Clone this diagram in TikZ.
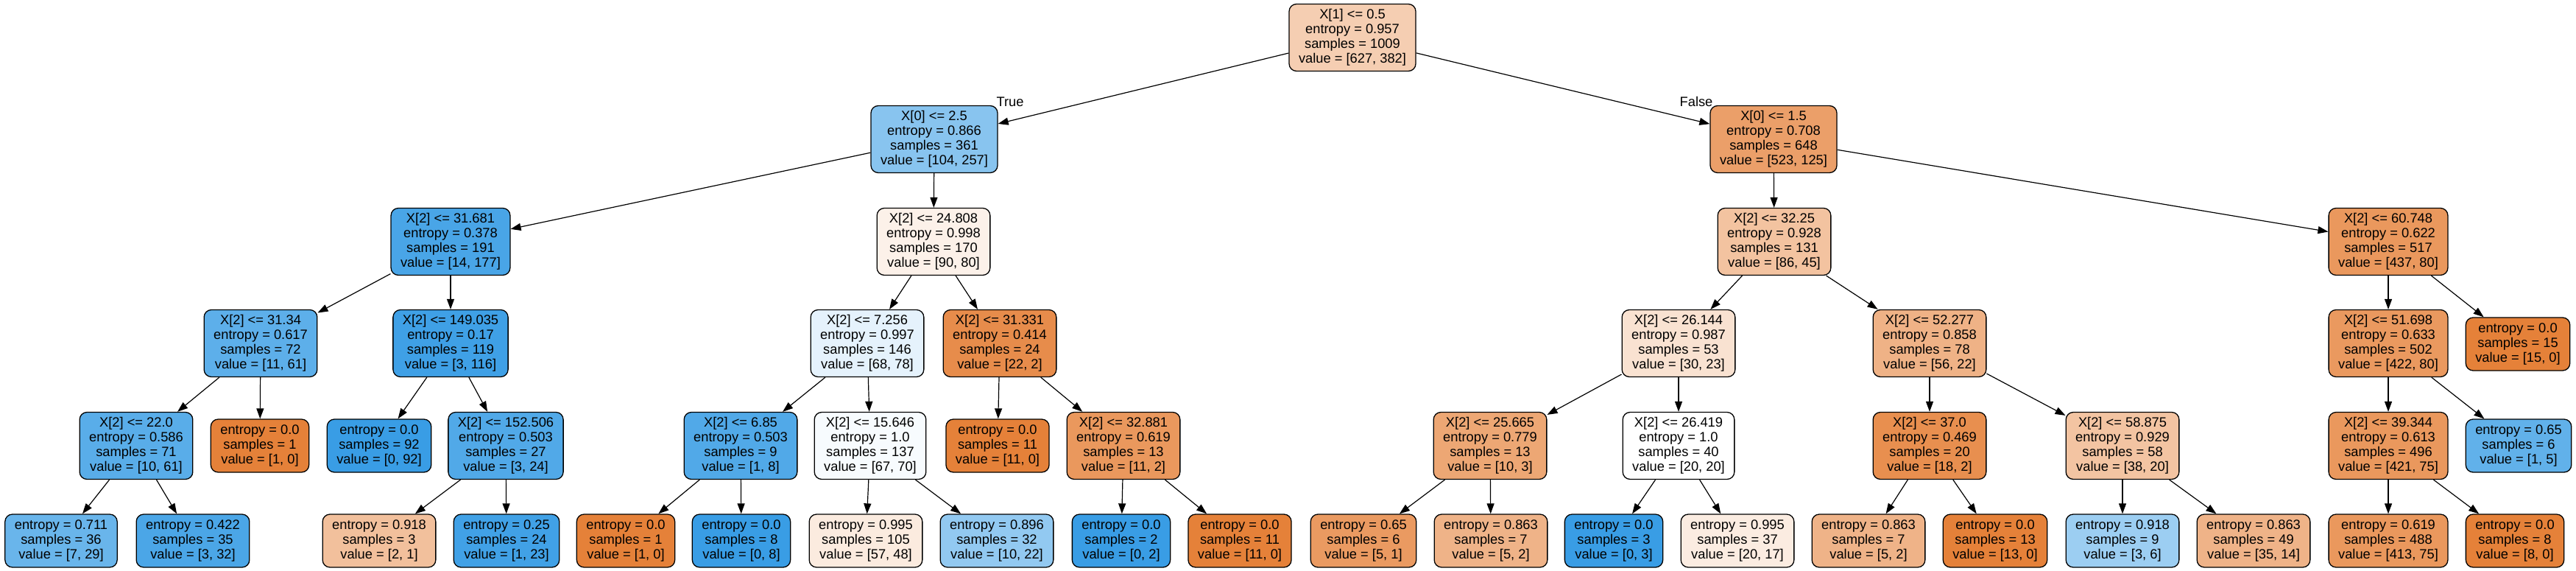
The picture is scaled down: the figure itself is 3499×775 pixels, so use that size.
\documentclass[tikz,border=0pt]{standalone}
\usepackage{fontspec}
\setmainfont{Liberation Sans}
\usetikzlibrary{arrows.meta}
\definecolor{clsA}{HTML}{E58139}
\definecolor{clsB}{HTML}{399DE5}
\begin{document}
\begin{tikzpicture}
      [
      x=1pt, y=-1pt,
      font=\fontsize{18.3}{20}\selectfont,
      box/.style={rectangle,draw,line width=1.3pt,rounded corners=10pt,align=center,inner xsep=13pt,inner ysep=2pt},
      split/.style={box,minimum height=91pt},
      leaf/.style={box,minimum height=72pt},
      edge/.style={line width=1.2pt,-{Triangle[length=14pt,width=10pt]}}
      ]
      \useasboundingbox (0,0) rectangle (3499,775);
      % depth 0 and 1
      \node (n) at (1837,51) [split, fill=clsA!39!white] {X[1] <= 0.5\\entropy = 0.957\\samples = 1009\\value = [627, 382]};
      \node (nl) at (1269,189) [split, fill=clsB!60!white] {X[0] <= 2.5\\entropy = 0.866\\samples = 361\\value = [104, 257]};
      \node (nr) at (2409,189) [split, fill=clsA!76!white] {X[0] <= 1.5\\entropy = 0.708\\samples = 648\\value = [523, 125]};
      \node (lblT) at (1372,138) {True};
      \node (lblF) at (2304,138) {False};
      % depth 2
      \node (nll) at (612,328) [split, fill=clsB!92!white] {X[2] <= 31.681\\entropy = 0.378\\samples = 191\\value = [14, 177]};
      \node (nlr) at (1268,328) [split, fill=clsA!11!white] {X[2] <= 24.808\\entropy = 0.998\\samples = 170\\value = [90, 80]};
      \node (nrl) at (2410,328) [split, fill=clsA!48!white] {X[2] <= 32.25\\entropy = 0.928\\samples = 131\\value = [86, 45]};
      \node (nrr) at (3244,328) [split, fill=clsA!82!white] {X[2] <= 60.748\\entropy = 0.622\\samples = 517\\value = [437, 80]};
      % depth 3
      \node (nlll) at (354,466) [split, fill=clsB!82!white] {X[2] <= 31.34\\entropy = 0.617\\samples = 72\\value = [11, 61]};
      \node (nllr) at (612,466) [split, fill=clsB!97!white] {X[2] <= 149.035\\entropy = 0.17\\samples = 119\\value = [3, 116]};
      \node (nlrl) at (1178,466) [split, fill=clsB!13!white] {X[2] <= 7.256\\entropy = 0.997\\samples = 146\\value = [68, 78]};
      \node (nlrr) at (1358,466) [split, fill=clsA!91!white] {X[2] <= 31.331\\entropy = 0.414\\samples = 24\\value = [22, 2]};
      \node (nrll) at (2280,466) [split, fill=clsA!23!white] {X[2] <= 26.144\\entropy = 0.987\\samples = 53\\value = [30, 23]};
      \node (nrlr) at (2621,466) [split, fill=clsA!61!white] {X[2] <= 52.277\\entropy = 0.858\\samples = 78\\value = [56, 22]};
      \node (nrrl) at (3244,466) [split, fill=clsA!81!white] {X[2] <= 51.698\\entropy = 0.633\\samples = 502\\value = [422, 80]};
      \node (nrrr) at (3420,467) [leaf, fill=clsA] {entropy = 0.0\\samples = 15\\value = [15, 0]};
      % depth 4
      \node (nllll) at (185,605) [split, fill=clsB!84!white] {X[2] <= 22.0\\entropy = 0.586\\samples = 71\\value = [10, 61]};
      \node (nlllr) at (353,605) [leaf, fill=clsA] {entropy = 0.0\\samples = 1\\value = [1, 0]};
      \node (nllrl) at (515,605) [leaf, fill=clsB] {entropy = 0.0\\samples = 92\\value = [0, 92]};
      \node (nllrr) at (687,605) [split, fill=clsB!88!white] {X[2] <= 152.506\\entropy = 0.503\\samples = 27\\value = [3, 24]};
      \node (nlrll) at (1006,605) [split, fill=clsB!88!white] {X[2] <= 6.85\\entropy = 0.503\\samples = 9\\value = [1, 8]};
      \node (nlrlr) at (1182,605) [split, fill=clsB!4!white] {X[2] <= 15.646\\entropy = 1.0\\samples = 137\\value = [67, 70]};
      \node (nlrrl) at (1355,605) [leaf, fill=clsA] {entropy = 0.0\\samples = 11\\value = [11, 0]};
      \node (nlrrr) at (1526,605) [split, fill=clsA!82!white] {X[2] <= 32.881\\entropy = 0.619\\samples = 13\\value = [11, 2]};
      \node (nrlll) at (2024,605) [split, fill=clsA!70!white] {X[2] <= 25.665\\entropy = 0.779\\samples = 13\\value = [10, 3]};
      \node (nrllr) at (2280,605) [split, fill=white] {X[2] <= 26.419\\entropy = 1.0\\samples = 40\\value = [20, 20]};
      \node (nrlrl) at (2621,605) [split, fill=clsA!89!white] {X[2] <= 37.0\\entropy = 0.469\\samples = 20\\value = [18, 2]};
      \node (nrlrr) at (2883,605) [split, fill=clsA!47!white] {X[2] <= 58.875\\entropy = 0.929\\samples = 58\\value = [38, 20]};
      \node (nrrll) at (3244,605) [split, fill=clsA!82!white] {X[2] <= 39.344\\entropy = 0.613\\samples = 496\\value = [421, 75]};
      \node (nrrlr) at (3421,605) [leaf, fill=clsB!80!white] {entropy = 0.65\\samples = 6\\value = [1, 5]};
      % depth 5
      \node (nlllll) at (83,734) [leaf, fill=clsB!76!white] {entropy = 0.711\\samples = 36\\value = [7, 29]};
      \node (nllllr) at (262,734) [leaf, fill=clsB!91!white] {entropy = 0.422\\samples = 35\\value = [3, 32]};
      \node (nllrrl) at (515,734) [leaf, fill=clsA!50!white] {entropy = 0.918\\samples = 3\\value = [2, 1]};
      \node (nllrrr) at (688,734) [leaf, fill=clsB!96!white] {entropy = 0.25\\samples = 24\\value = [1, 23]};
      \node (nlrlll) at (850,734) [leaf, fill=clsA] {entropy = 0.0\\samples = 1\\value = [1, 0]};
      \node (nlrllr) at (1007,734) [leaf, fill=clsB] {entropy = 0.0\\samples = 8\\value = [0, 8]};
      \node (nlrlrl) at (1176,734) [leaf, fill=clsA!16!white] {entropy = 0.995\\samples = 105\\value = [57, 48]};
      \node (nlrlrr) at (1354,734) [leaf, fill=clsB!55!white] {entropy = 0.896\\samples = 32\\value = [10, 22]};
      \node (nlrrrl) at (1523,734) [leaf, fill=clsB] {entropy = 0.0\\samples = 2\\value = [0, 2]};
      \node (nlrrrr) at (1684,734) [leaf, fill=clsA] {entropy = 0.0\\samples = 11\\value = [11, 0]};
      \node (nrllll) at (1852,734) [leaf, fill=clsA!80!white] {entropy = 0.65\\samples = 6\\value = [5, 1]};
      \node (nrlllr) at (2025,734) [leaf, fill=clsA!60!white] {entropy = 0.863\\samples = 7\\value = [5, 2]};
      \node (nrllrl) at (2192,734) [leaf, fill=clsB] {entropy = 0.0\\samples = 3\\value = [0, 3]};
      \node (nrllrr) at (2360,734) [leaf, fill=clsA!15!white] {entropy = 0.995\\samples = 37\\value = [20, 17]};
      \node (nrlrll) at (2538,734) [leaf, fill=clsA!60!white] {entropy = 0.863\\samples = 7\\value = [5, 2]};
      \node (nrlrlr) at (2710,734) [leaf, fill=clsA] {entropy = 0.0\\samples = 13\\value = [13, 0]};
      \node (nrlrrl) at (2883,734) [leaf, fill=clsB!50!white] {entropy = 0.918\\samples = 9\\value = [3, 6]};
      \node (nrlrrr) at (3061,734) [leaf, fill=clsA!60!white] {entropy = 0.863\\samples = 49\\value = [35, 14]};
      \node (nrrlll) at (3244,734) [leaf, fill=clsA!82!white] {entropy = 0.619\\samples = 488\\value = [413, 75]};
      \node (nrrllr) at (3416,734) [leaf, fill=clsA] {entropy = 0.0\\samples = 8\\value = [8, 0]};
      \draw [edge] (n) to (nl);
      \draw [edge] (n) to (nr);
      \draw [edge] (nl) to (nll);
      \draw [edge] (nl) to (nlr);
      \draw [edge] (nr) to (nrl);
      \draw [edge] (nr) to (nrr);
      \draw [edge] (nll) to (nlll);
      \draw [edge] (nll) to (nllr);
      \draw [edge] (nlr) to (nlrl);
      \draw [edge] (nlr) to (nlrr);
      \draw [edge] (nrl) to (nrll);
      \draw [edge] (nrl) to (nrlr);
      \draw [edge] (nrr) to (nrrl);
      \draw [edge] (nrr) to (nrrr);
      \draw [edge] (nlll) to (nllll);
      \draw [edge] (nlll) to (nlllr);
      \draw [edge] (nllr) to (nllrl);
      \draw [edge] (nllr) to (nllrr);
      \draw [edge] (nlrl) to (nlrll);
      \draw [edge] (nlrl) to (nlrlr);
      \draw [edge] (nlrr) to (nlrrl);
      \draw [edge] (nlrr) to (nlrrr);
      \draw [edge] (nrll) to (nrlll);
      \draw [edge] (nrll) to (nrllr);
      \draw [edge] (nrlr) to (nrlrl);
      \draw [edge] (nrlr) to (nrlrr);
      \draw [edge] (nrrl) to (nrrll);
      \draw [edge] (nrrl) to (nrrlr);
      \draw [edge] (nllll) to (nlllll);
      \draw [edge] (nllll) to (nllllr);
      \draw [edge] (nllrr) to (nllrrl);
      \draw [edge] (nllrr) to (nllrrr);
      \draw [edge] (nlrll) to (nlrlll);
      \draw [edge] (nlrll) to (nlrllr);
      \draw [edge] (nlrlr) to (nlrlrl);
      \draw [edge] (nlrlr) to (nlrlrr);
      \draw [edge] (nlrrr) to (nlrrrl);
      \draw [edge] (nlrrr) to (nlrrrr);
      \draw [edge] (nrlll) to (nrllll);
      \draw [edge] (nrlll) to (nrlllr);
      \draw [edge] (nrllr) to (nrllrl);
      \draw [edge] (nrllr) to (nrllrr);
      \draw [edge] (nrlrl) to (nrlrll);
      \draw [edge] (nrlrl) to (nrlrlr);
      \draw [edge] (nrlrr) to (nrlrrl);
      \draw [edge] (nrlrr) to (nrlrrr);
      \draw [edge] (nrrll) to (nrrlll);
      \draw [edge] (nrrll) to (nrrllr);
    \end{tikzpicture}
\end{document}
